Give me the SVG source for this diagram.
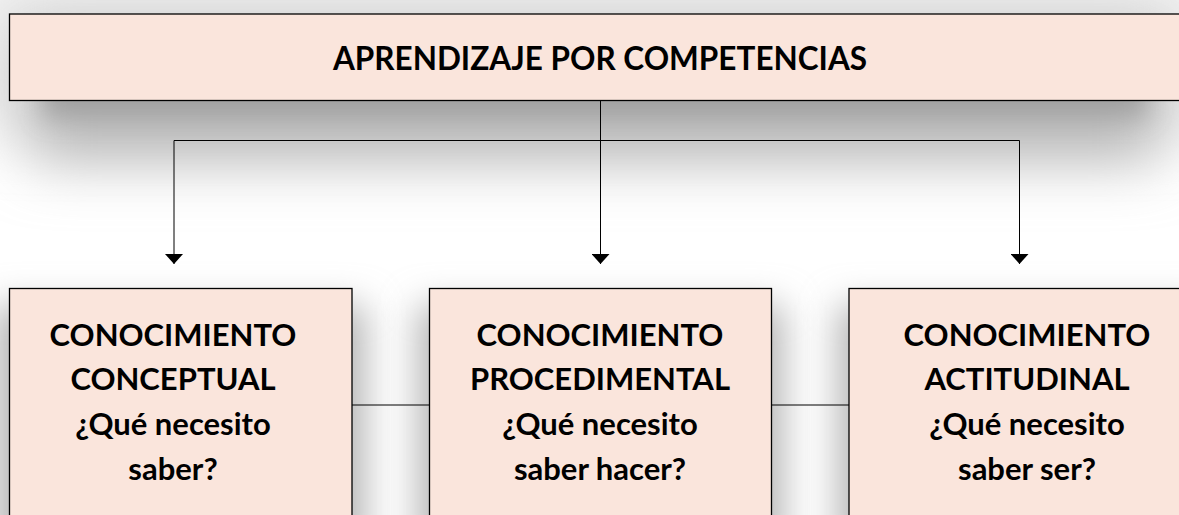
<svg xmlns="http://www.w3.org/2000/svg" width="1179" height="515" viewBox="0 0 1179 515">
<style>
.box{fill:#FAE5DC;stroke:#000;stroke-width:1.3}
.t{font-family:Lato,"Liberation Sans",sans-serif;font-weight:bold;fill:#000;text-anchor:middle}
.big{font-size:31px}
.title{font-size:31.5px}
.c{fill:none;stroke:#000;stroke-width:1}
</style>
<defs>
<filter id="sh" filterUnits="userSpaceOnUse" x="-200" y="-200" width="1600" height="600">
<feGaussianBlur stdDeviation="30"/>
</filter>
<filter id="sh3" filterUnits="userSpaceOnUse" x="-200" y="-200" width="1600" height="600">
<feGaussianBlur stdDeviation="12"/>
</filter>
<filter id="sh2" filterUnits="userSpaceOnUse" x="-100" y="150" width="1400" height="500">
<feGaussianBlur stdDeviation="18"/>
</filter>
<marker id="ah" markerWidth="11" markerHeight="18" refX="10" refY="9" orient="auto" markerUnits="userSpaceOnUse">
<path d="M0,0 L10,9 L0,18 Z" fill="#000"/>
</marker>
</defs>
<rect width="1179" height="515" fill="#fff"/>
<g id="shadows">
<rect x="-20" y="-20" width="1220" height="150" fill="#e2e2e2" filter="url(#sh)"/>
<rect x="30" y="40" width="1130" height="120" fill="#b8b8b8" filter="url(#sh)"/>
<rect x="45" y="70" width="1100" height="45" fill="#a0a0a0" filter="url(#sh3)"/>
<rect x="-5" y="305" width="370" height="250" fill="#b4b4b4" filter="url(#sh2)"/>
<rect x="418" y="305" width="365" height="250" fill="#b4b4b4" filter="url(#sh2)"/>
<rect x="838" y="305" width="370" height="250" fill="#b4b4b4" filter="url(#sh2)"/>
</g>
<g id="connectors">
<path class="c" d="M600.5,100 V140.5 M174,140.5 H1019.5"/>
<path class="c" d="M174,140.5 V264" marker-end="url(#ah)"/>
<path class="c" d="M600.5,140.5 V264" marker-end="url(#ah)"/>
<path class="c" d="M1019.5,140.5 V264" marker-end="url(#ah)"/>
<path class="c" d="M352,405 H429 M772,405 H849"/>
</g>
<g id="top">
<rect class="box" x="9.5" y="14" width="1180" height="86.5"/>
<text class="t title" x="600" y="70">APRENDIZAJE POR COMPETENCIAS</text>
</g>
<g id="conceptual">
<rect class="box" x="9.5" y="288.5" width="342.5" height="240"/>
<text class="t big" x="173" y="346">CONOCIMIENTO</text>
<text class="t big" x="173" y="390">CONCEPTUAL</text>
<text class="t big" x="173" y="435">¿Qué necesito</text>
<text class="t big" x="173" y="480">saber?</text>
</g>
<g id="procedimental">
<rect class="box" x="429.5" y="288.5" width="342" height="240"/>
<text class="t big" x="600" y="346">CONOCIMIENTO</text>
<text class="t big" x="600" y="390">PROCEDIMENTAL</text>
<text class="t big" x="600" y="435">¿Qué necesito</text>
<text class="t big" x="600" y="480">saber hacer?</text>
</g>
<g id="actitudinal">
<rect class="box" x="849" y="288.5" width="343" height="240"/>
<text class="t big" x="1027" y="346">CONOCIMIENTO</text>
<text class="t big" x="1027" y="390">ACTITUDINAL</text>
<text class="t big" x="1027" y="435">¿Qué necesito</text>
<text class="t big" x="1027" y="480">saber ser?</text>
</g>
</svg>
